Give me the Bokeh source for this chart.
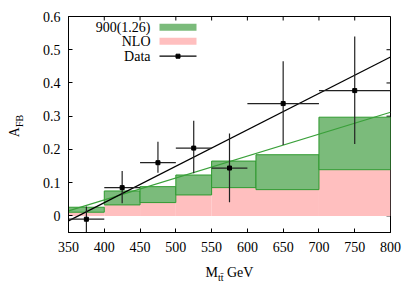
from bokeh.plotting import figure
from bokeh.models import Range1d, FixedTicker, Label
from bokeh.embed import file_html
from bokeh.resources import INLINE
import math

# ---- data ----
bin_lo = [350, 400, 450, 500, 550, 612, 700]
bin_hi = [400, 450, 500, 550, 612, 700, 800]
nlo = [0.011, 0.033, 0.040, 0.063, 0.085, 0.079, 0.139]
np900 = [0.026, 0.075, 0.088, 0.123, 0.165, 0.184, 0.297]

data_x = [375, 425, 475, 525, 575, 650, 750]
data_xlo = [350, 400, 450, 500, 550, 600, 700]
data_xhi = [400, 450, 500, 550, 600, 700, 800]
data_y = [-0.010, 0.085, 0.160, 0.204, 0.144, 0.338, 0.377]
data_ylo = [-0.055, 0.038, 0.130, 0.128, 0.041, 0.213, 0.216]
data_yhi = [0.028, 0.135, 0.223, 0.286, 0.248, 0.465, 0.540]

fit_x = [350, 800]
fit_data = [-0.015, 0.478]
fit_np = [0.015, 0.312]

x_ticks = [350, 400, 450, 500, 550, 600, 650, 700, 750, 800]
y_ticks = [0, 0.1, 0.2, 0.3, 0.4, 0.5, 0.6]

# ---- layout ----
W, H = 415, 291
FL, FR, FT, FB = 68, 390, 16, 232
XMIN, XMAX, YMIN, YMAX = 350, 800, -0.05, 0.6
FONT = "Liberation Serif"

GREEN_FILL = "#7bbb7b"
GREEN_LINE = "#2f9a2f"
PINK = "#ffbfbf"

DX = (XMAX - XMIN) / (FR - FL)   # data per pixel
DY = (YMAX - YMIN) / (FB - FT)


def px2x(px):
    return XMIN + (px - FL) * DX


def px2y(py):
    return YMAX - (py - FT) * DY


p = figure(width=W, height=H, x_range=Range1d(XMIN, XMAX), y_range=Range1d(YMIN, YMAX),
           output_backend="svg", toolbar_location=None,
           min_border_left=FL, min_border_right=W - FR, min_border_top=FT, min_border_bottom=H - FB)
p.grid.visible = False
p.outline_line_color = "black"
p.outline_line_width = 1
p.background_fill_color = "white"
p.border_fill_color = "white"

for ax, ticks in ((p.xaxis, x_ticks), (p.yaxis, y_ticks)):
    ax.ticker = FixedTicker(ticks=ticks)
    ax.major_tick_in = 4
    ax.major_tick_out = 0
    ax.minor_tick_in = 0
    ax.minor_tick_out = 0
    ax.major_label_text_font = FONT
    ax.major_label_text_font_size = "14px"
    ax.major_label_text_color = "black"
    ax.axis_line_color = "black"
p.xaxis.major_label_standoff = 9
p.yaxis.major_label_standoff = 8
p.yaxis.major_label_overrides = {0: "0"}

# inward ticks on the top and right frame edges (mirrors of the main ticks)
p.segment(x0=x_ticks, x1=x_ticks, y0=[YMAX] * len(x_ticks), y1=[YMAX - 4 * DY] * len(x_ticks),
          line_color="black", line_width=1)
p.segment(x0=[XMAX] * len(y_ticks), x1=[XMAX - 4 * DX] * len(y_ticks), y0=y_ticks, y1=y_ticks,
          line_color="black", line_width=1)

# NLO (pink) band
p.quad(left=bin_lo, right=bin_hi, bottom=[0] * len(nlo), top=nlo,
       fill_color=PINK, line_color=None)
# 900(1.26) green band
p.quad(left=bin_lo, right=bin_hi, bottom=nlo, top=np900,
       fill_color=GREEN_FILL, line_color=GREEN_LINE, line_width=1)

# fit lines
p.line(fit_x, fit_np, line_color="#3aa03a", line_width=1.2)
p.line(fit_x, fit_data, line_color="black", line_width=1.2)

# data with error bars
p.segment(x0=data_xlo, x1=data_xhi, y0=data_y, y1=data_y, line_color="#222222", line_width=1.2)
p.segment(x0=data_x, x1=data_x, y0=data_ylo, y1=data_yhi, line_color="#222222", line_width=1.2)
p.scatter(data_x, data_y, marker="square", size=4, color="black")

# legend (manual, text right-aligned, glyph on right)
leg_text_x = px2x(150)
g0, g1 = px2x(159), px2x(196)
rows = [px2y(26.7), px2y(40.7), px2y(55.7)]
box_h = 7 * DY
names = ["900(1.26)", "NLO", "Data"]
for name, yy in zip(names, rows):
    p.add_layout(Label(x=leg_text_x, y=yy, text=name, text_align="right", text_baseline="middle",
                       text_font=FONT, text_font_size="14px", text_color="black"))
p.quad(left=[g0], right=[g1], bottom=[rows[0] - box_h / 2], top=[rows[0] + box_h / 2],
       fill_color=GREEN_FILL, line_color=None)
p.quad(left=[g0], right=[g1], bottom=[rows[1] - box_h / 2], top=[rows[1] + box_h / 2],
       fill_color=PINK, line_color=None)
p.line([g0, g1], [rows[2], rows[2]], line_color="black", line_width=1.2)
p.scatter([(g0 + g1) / 2], [rows[2]], marker="square", size=4, color="black")


# axis titles (canvas pixel positions), placed in side panels so they are not clipped
def title(x, y, text, size, side, angle=0.0):
    p.add_layout(Label(x=x, y=y, x_units="canvas", y_units="canvas", text=text, angle=angle,
                       text_align="left", text_baseline="alphabetic", text_font=FONT,
                       text_font_size=size, text_color="black"), side)


title(14, 136.7, "A", "14px", "left", math.pi / 2)
title(18.7, 126.5, "FB", "10px", "left", math.pi / 2)
title(205, 272, "M", "14px", "below")
title(217.5, 276.5, "tt\u0304", "10px", "right")
title(226.5, 272, "GeV", "14px", "below")

open("out.html", "w").write(file_html(p, INLINE))
